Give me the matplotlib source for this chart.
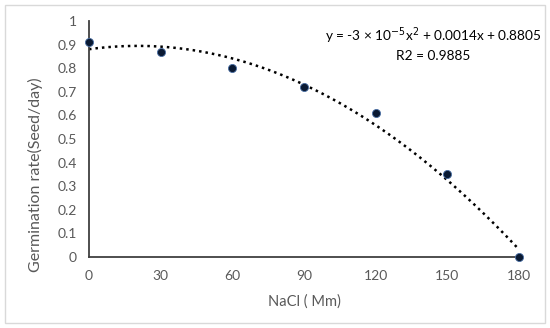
import numpy as np
import matplotlib.pyplot as plt
from matplotlib.patches import Rectangle

nacl = [0, 30, 60, 90, 120, 150, 180]
rate = [0.91, 0.87, 0.80, 0.72, 0.61, 0.35, 0.0]
xticks = [0, 30, 60, 90, 120, 150, 180]
yticks = [0, 0.1, 0.2, 0.3, 0.4, 0.5, 0.6, 0.7, 0.8, 0.9, 1]
eq_text = "y = -3 × 10$^{-5}$x$^{2}$ + 0.0014x + 0.8805\nR2 = 0.9885"

plt.rcParams['font.family'] = ['Lato', 'DejaVu Sans']
grey = "#595959"

fig = plt.figure(figsize=(5.5, 3.28), dpi=100)
fig.patches.append(Rectangle((0.009, 0.015), 0.982, 0.97, transform=fig.transFigure,
                             fill=False, edgecolor="#d9d9d9", linewidth=1))
ax = fig.add_axes([89 / 550, 1 - 257 / 328, (519 - 89) / 550, (257 - 21) / 328])

# second order trendline fitted to the points
coef = np.polyfit(nacl, rate, 2)
xs = np.linspace(0, 180, 200)
ax.plot(xs, np.polyval(coef, xs), color="black", linestyle=(0, (1, 1.6)), linewidth=1.8, zorder=2)
ax.scatter(nacl, rate, s=34, color="#0a1a33", edgecolors="#4a6fa5", linewidths=0.6, zorder=3, clip_on=False)

ax.set_xlim(0, 180)
ax.set_ylim(0, 1)
ax.set_xticks(xticks)
ax.set_xticklabels([str(v) for v in xticks])
ax.set_yticks(yticks)
ax.set_yticklabels(["0"] + ["%.1f" % v for v in yticks[1:-1]] + ["1"])
ax.tick_params(length=0, colors=grey, labelsize=10, pad=9)
for s in ["top", "right"]:
    ax.spines[s].set_visible(False)
for s in ["left", "bottom"]:
    ax.spines[s].set_color("#404040")
    ax.spines[s].set_linewidth(1.3)

ax.set_xlabel("NaCl ( Mm)", color=grey, fontsize=10.5, labelpad=9)
ax.set_ylabel("Germination rate(Seed/day)", color=grey, fontsize=11.5, labelpad=9)
ax.yaxis.set_label_coords(-0.108, 0.35)
ax.text(0.8, 0.905, eq_text, transform=ax.transAxes, ha="center", va="center",
        fontsize=9.8, color="black", linespacing=1.4)

fig.savefig("out.png", dpi=100)
